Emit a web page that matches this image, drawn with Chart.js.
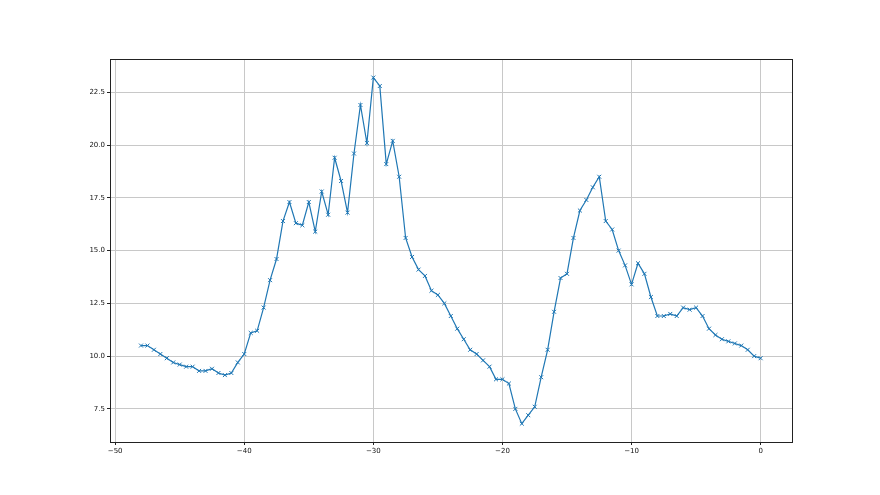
<!DOCTYPE html>
<html>
<head>
<meta charset="utf-8">
<script src="https://cdn.jsdelivr.net/npm/chart.js@4/dist/chart.umd.min.js"></script>
<style>
  body { margin: 0; background: #fff; }
  #wrap { width: 880px; height: 495px; }
</style>
</head>
<body>
<div id="wrap"><canvas id="lineChart" width="880" height="495"></canvas></div>
<script>
// x positions, every 0.5 from -48 to 0
const xValues = [
  -48, -47.5, -47, -46.5, -46, -45.5, -45, -44.5, -44, -43.5,
  -43, -42.5, -42, -41.5, -41, -40.5, -40, -39.5, -39, -38.5,
  -38, -37.5, -37, -36.5, -36, -35.5, -35, -34.5, -34, -33.5,
  -33, -32.5, -32, -31.5, -31, -30.5, -30, -29.5, -29, -28.5,
  -28, -27.5, -27, -26.5, -26, -25.5, -25, -24.5, -24, -23.5,
  -23, -22.5, -22, -21.5, -21, -20.5, -20, -19.5, -19, -18.5,
  -18, -17.5, -17, -16.5, -16, -15.5, -15, -14.5, -14, -13.5,
  -13, -12.5, -12, -11.5, -11, -10.5, -10, -9.5, -9, -8.5,
  -8, -7.5, -7, -6.5, -6, -5.5, -5, -4.5, -4, -3.5,
  -3, -2.5, -2, -1.5, -1, -0.5, 0
];

const yValues = [
  10.5, 10.5, 10.3, 10.1, 9.9, 9.7, 9.6, 9.5, 9.5, 9.3,
  9.3, 9.4, 9.2, 9.1, 9.2, 9.7, 10.1, 11.1, 11.2, 12.3,
  13.6, 14.6, 16.4, 17.3, 16.3, 16.2, 17.3, 15.9, 17.8, 16.7,
  19.4, 18.3, 16.8, 19.6, 21.9, 20.1, 23.2, 22.8, 19.1, 20.2,
  18.5, 15.6, 14.7, 14.1, 13.8, 13.1, 12.9, 12.5, 11.9, 11.3,
  10.8, 10.3, 10.1, 9.8, 9.5, 8.9, 8.9, 8.7, 7.5, 6.8,
  7.2, 7.6, 9.0, 10.3, 12.1, 13.7, 13.9, 15.6, 16.9, 17.4,
  18.0, 18.5, 16.4, 16.0, 15.0, 14.3, 13.4, 14.4, 13.9, 12.8,
  11.9, 11.9, 12.0, 11.9, 12.3, 12.2, 12.3, 11.9, 11.3, 11.0,
  10.8, 10.7, 10.6, 10.5, 10.3, 10.0, 9.9
];

const xTicks = [-50, -40, -30, -20, -10, 0];
const yTicks = [7.5, 10.0, 12.5, 15.0, 17.5, 20.0, 22.5];

const points = xValues.map((x, i) => ({ x: x, y: yValues[i] }));

// black frame round the plot area, like matplotlib spines
const framePlugin = {
  id: 'frame',
  afterDraw(chart) {
    const a = chart.chartArea;
    const ctx = chart.ctx;
    ctx.save();
    ctx.strokeStyle = '#222';
    ctx.lineWidth = 1;
    ctx.strokeRect(Math.round(a.left) + 0.5, Math.round(a.top) + 0.5,
      Math.round(a.right - a.left), Math.round(a.bottom - a.top));
    ctx.restore();
  }
};

const tickFont = { family: 'DejaVu Sans', size: 7 };

new Chart(document.getElementById('lineChart').getContext('2d'), {
  type: 'line',
  data: {
    datasets: [{
      data: points,
      borderColor: '#1f77b4',
      backgroundColor: '#1f77b4',
      borderWidth: 1.2,
      pointStyle: 'crossRot',
      pointRadius: 2.8,
      pointBorderWidth: 1,
      pointBorderColor: '#1f77b4',
      pointHoverRadius: 2.8,
      tension: 0,
      fill: false
    }]
  },
  options: {
    responsive: false,
    devicePixelRatio: 1,
    animation: false,
    layout: { padding: { top: 59, right: 88, left: 0, bottom: 0 } },
    plugins: {
      legend: { display: false },
      tooltip: { enabled: false }
    },
    scales: {
      x: {
        type: 'linear',
        min: -50.4,
        max: 2.43,
        border: { display: false },
        grid: { color: '#c8c8c8', lineWidth: 1, tickColor: '#222', tickLength: 3 },
        afterBuildTicks: (scale) => { scale.ticks = xTicks.map(v => ({ value: v })); },
        afterFit: (scale) => { scale.height = 53; },
        ticks: {
          color: '#111',
          font: tickFont,
          padding: 2,
          maxRotation: 0,
          callback: (v) => String(v).replace('-', '\u2212')
        }
      },
      y: {
        min: 5.93,
        max: 24.08,
        border: { display: false },
        grid: { color: '#c8c8c8', lineWidth: 1, tickColor: '#222', tickLength: 3 },
        afterBuildTicks: (scale) => { scale.ticks = yTicks.map(v => ({ value: v })); },
        afterFit: (scale) => { scale.width = 110; },
        ticks: {
          color: '#111',
          font: tickFont,
          padding: 2,
          callback: (v) => Number(v).toFixed(1)
        }
      }
    }
  },
  plugins: [framePlugin]
});
</script>
</body>
</html>
